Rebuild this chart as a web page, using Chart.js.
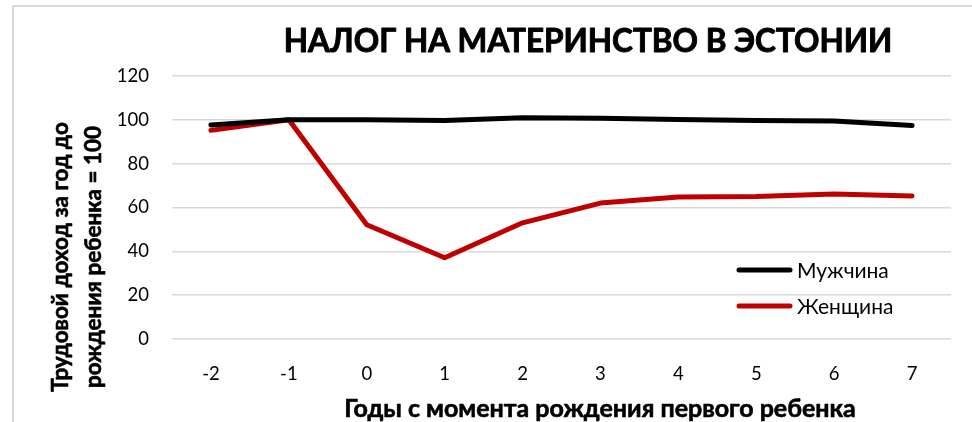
<!DOCTYPE html>
<html>
<head>
<meta charset="utf-8">
<script src="https://cdn.jsdelivr.net/npm/chart.js@4.4.1/dist/chart.umd.min.js"></script>
<style>
  html, body { margin: 0; padding: 0; background: #fff; }
  #wrap { position: relative; width: 972px; height: 422px; overflow: hidden; }
  #frame { position: absolute; left: 12px; top: 5px; width: 980px; height: 440px;
           border-left: 2px solid #d9d9d9; border-top: 2px solid #d9d9d9; }
  canvas { position: absolute; left: 0; top: 0; }
</style>
</head>
<body>
<div id="wrap">
  <div id="frame"></div>
  <canvas id="chart" width="972" height="422"></canvas>
</div>
<script>
// Годы относительно рождения первого ребенка
const years = ['-2', '-1', '0', '1', '2', '3', '4', '5', '6', '7'];
// Трудовой доход (год до рождения = 100)
const men   = [97.6, 100, 100, 99.7, 101, 100.7, 100.2, 99.7, 99.5, 97.4];
const women = [95.2, 100, 52.1, 37.1, 53, 62, 64.8, 65, 66.2, 65.3];

const seriesNames  = ['Мужчина', 'Женщина'];
const seriesColors = ['#000000', '#c00000'];

const chartTitle = 'НАЛОГ НА МАТЕРИНСТВО В ЭСТОНИИ';
const yTitle = ['Трудовой доход за год до', 'рождения ребенка = 100'];
const xTitle = 'Годы с момента рождения первого ребенка';

const FONT = 'Lato, "Open Sans", sans-serif';

// жирный текст чуть плотнее, ближе к Calibri Bold
function boldText(ctx, text, x, y, weight) {
  ctx.lineWidth = weight;
  ctx.strokeText(text, x, y);
  ctx.fillText(text, x, y);
}

// Заголовки, подписи осей и легенда — рисуем сами, как в Excel
const textPlugin = {
  id: 'excelText',
  afterDraw(chart) {
    const ctx = chart.ctx;
    ctx.save();
    ctx.fillStyle = '#000';
    ctx.strokeStyle = '#000';
    ctx.lineJoin = 'round';

    // заголовок
    ctx.font = `bold 31.5px ${FONT}`;
    ctx.textAlign = 'center';
    ctx.textBaseline = 'alphabetic';
    boldText(ctx, chartTitle, 588, 52, 0.9);

    // подпись оси X
    ctx.font = `bold 25px ${FONT}`;
    boldText(ctx, xTitle, 600, 417, 0.6);

    // подпись оси Y (две строки, повернута)
    ctx.save();
    ctx.translate(0, 257);
    ctx.rotate(-Math.PI / 2);
    ctx.font = `bold 22.5px ${FONT}`;
    boldText(ctx, yTitle[0], 0, 68, 0.6);
    boldText(ctx, yTitle[1], 0, 101, 0.6);
    ctx.restore();

    // легенда внутри области графика
    ctx.font = `21px ${FONT}`;
    ctx.textAlign = 'left';
    ctx.textBaseline = 'middle';
    ctx.lineCap = 'round';
    chart.data.datasets.forEach((ds, i) => {
      const y = 270 + i * 36;
      ctx.strokeStyle = ds.borderColor;
      ctx.lineWidth = 5;
      ctx.beginPath();
      ctx.moveTo(739, y);
      ctx.lineTo(790, y);
      ctx.stroke();
      ctx.fillText(ds.label, 797, y + 1);
    });
    ctx.restore();
  }
};

const lineDs = (label, data, color) => ({
  label,
  data,
  borderColor: color,
  backgroundColor: color,
  borderWidth: 5,
  borderCapStyle: 'round',
  borderJoinStyle: 'round',
  pointRadius: 0,
  pointHoverRadius: 0,
  tension: 0,
  fill: false,
});

new Chart(document.getElementById('chart'), {
  type: 'line',
  data: {
    labels: years,
    datasets: [
      lineDs(seriesNames[0], men, seriesColors[0]),
      lineDs(seriesNames[1], women, seriesColors[1]),
    ],
  },
  options: {
    responsive: false,
    animation: false,
    layout: { padding: { left: 0, top: 76, right: 21, bottom: 0 } },
    plugins: {
      legend: { display: false },
      title: { display: false },
      tooltip: { enabled: false },
    },
    scales: {
      x: {
        offset: true,
        grid: { display: false, drawTicks: false },
        border: { display: false },
        ticks: { color: '#000', font: { family: FONT, size: 18.5 }, padding: 24, maxRotation: 0 },
        afterFit: s => { s.height = 422 - 339; },
      },
      y: {
        min: 0,
        max: 120,
        grid: { color: '#d9d9d9', lineWidth: 1.5, drawTicks: false },
        border: { display: false },
        ticks: { stepSize: 20, color: '#000', font: { family: FONT, size: 18.5 }, padding: 23 },
        afterFit: s => { s.width = 172; },
      },
    },
  },
  plugins: [textPlugin],
});
</script>
</body>
</html>
